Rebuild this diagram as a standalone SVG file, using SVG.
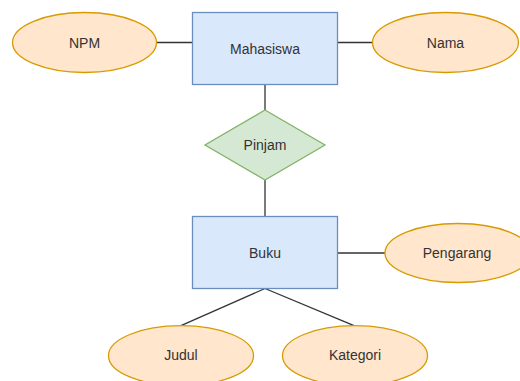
<svg xmlns="http://www.w3.org/2000/svg" width="520" height="381" viewBox="0 0 520 381">
<style>
.ent{fill:#dae8fc;stroke:#6c8ebf;stroke-width:1.3}
.att{fill:#ffe6cc;stroke:#d79b00;stroke-width:1.3}
.rel{fill:#d5e8d4;stroke:#82b366;stroke-width:1.3}
.lbl{font-family:"Liberation Sans",Arial,sans-serif;font-size:14px;fill:#333;text-anchor:middle}
.conn line{stroke:#333;stroke-width:1.3}
</style>
<rect width="520" height="381" fill="#fff"/>
<g class="conn" id="connectors">
<line x1="157" y1="42.5" x2="192.5" y2="42.5"/>
<line x1="337.5" y1="42.5" x2="372.5" y2="42.5"/>
<line x1="265" y1="84.5" x2="265" y2="110"/>
<line x1="265" y1="180" x2="265" y2="216.5"/>
<line x1="337.5" y1="253" x2="385" y2="253"/>
<line x1="265" y1="288.5" x2="181" y2="325.7"/>
<line x1="265" y1="288.5" x2="354" y2="325.7"/>
</g>
<g id="mahasiswa"><rect class="ent" x="192.5" y="12.5" width="145" height="72"/><text class="lbl" x="265" y="53.5">Mahasiswa</text></g>
<g id="npm"><ellipse class="att" cx="84.5" cy="42.5" rx="72" ry="30"/><text class="lbl" x="84.5" y="47.5">NPM</text></g>
<g id="nama"><ellipse class="att" cx="445.5" cy="42.5" rx="73" ry="30"/><text class="lbl" x="445.5" y="47.5">Nama</text></g>
<g id="pinjam"><polygon class="rel" points="265,110 325,145 265,180 205,145"/><text class="lbl" x="265" y="150">Pinjam</text></g>
<g id="buku"><rect class="ent" x="192.5" y="216.5" width="145" height="72"/><text class="lbl" x="265" y="258">Buku</text></g>
<g id="pengarang"><ellipse class="att" cx="458" cy="253" rx="73" ry="29.5"/><text class="lbl" x="457" y="258">Pengarang</text></g>
<g id="judul"><ellipse class="att" cx="181" cy="355.7" rx="72.5" ry="30"/><text class="lbl" x="181" y="360">Judul</text></g>
<g id="kategori"><ellipse class="att" cx="355" cy="355.7" rx="72.5" ry="30"/><text class="lbl" x="355" y="360">Kategori</text></g>
</svg>
